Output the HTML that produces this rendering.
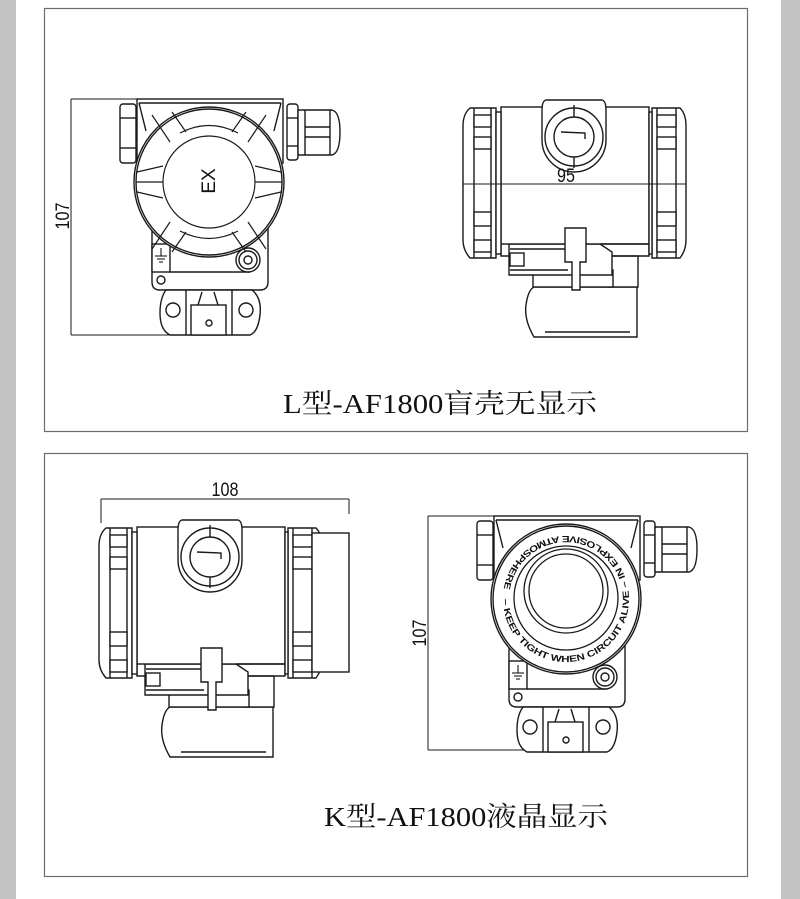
<!DOCTYPE html>
<html><head><meta charset="utf-8"><style>
html,body{margin:0;padding:0;background:#fff;}
svg{display:block}
</style></head><body>
<svg width="800" height="899" viewBox="0 0 800 899" xmlns="http://www.w3.org/2000/svg">
<defs>
<g id="front" fill="#fff" stroke="#1a1a1a" stroke-width="1.4">
  <path d="M152 228 L152 282 Q152 290 160 290 L260 290 Q268 290 268 282 L268 228 Z"/>
  <rect x="152" y="244" width="18" height="28"/>
  <line x1="170" y1="272" x2="250" y2="272"/>
  <circle cx="161" cy="280" r="4"/>
  <path d="M166 290 L252 290 Q262 298 260 315 Q258 332 250 335 L170 335 Q160 330 160 313 Q160 298 166 290 Z"/>
  <line x1="186" y1="290" x2="186" y2="335"/>
  <line x1="232" y1="290" x2="232" y2="335"/>
  <circle cx="173" cy="310" r="7"/>
  <circle cx="246" cy="310" r="7"/>
  <path d="M198 305 L202 292 M218 305 L214 292" fill="none"/>
  <rect x="191" y="305" width="35" height="30"/>
  <circle cx="209" cy="323" r="3"/>
  <rect x="137" y="99" width="146" height="64"/>
  <path d="M139 103 L281 103 M139 103 L146 131 M281 103 L274 131" fill="none"/>
  <rect x="120" y="104" width="16" height="59" rx="3"/>
  <line x1="120" y1="118" x2="136" y2="118"/><line x1="120" y1="148" x2="136" y2="148"/>
  <rect x="287" y="104" width="11" height="56" rx="3"/>
  <line x1="287" y1="118" x2="298" y2="118"/><line x1="287" y1="146" x2="298" y2="146"/>
  <path d="M298 110 L332 110 Q340 112 340 132 Q340 153 332 155 L298 155 Z"/>
  <line x1="305" y1="110" x2="305" y2="155"/>
  <line x1="305" y1="127" x2="330" y2="127"/><line x1="305" y1="137" x2="330" y2="137"/>
  <line x1="330" y1="110" x2="330" y2="155"/>
  <circle cx="209" cy="182" r="75"/>
  <circle cx="209" cy="182" r="73" fill="none"/>
  <circle cx="248" cy="260" r="12"/>
  <circle cx="248" cy="260" r="9" fill="none"/>
  <circle cx="248" cy="260" r="4" fill="none"/>
  <g stroke-width="1.1" fill="none">
    <line x1="161" y1="248" x2="161" y2="256"/>
    <line x1="155" y1="256" x2="167" y2="256"/>
    <line x1="157" y1="259" x2="165" y2="259"/>
    <line x1="159" y1="262" x2="163" y2="262"/>
  </g>
</g>
<g id="side" fill="#fff" stroke="#1a1a1a" stroke-width="1.4">
  <path d="M534 287 L637 287 L637 337 L534 337 Q524 320 526 305 Q528 290 534 287 Z"/>
  <line x1="545" y1="332" x2="630" y2="332"/>
  <rect x="608" y="256" width="30" height="31"/>
  <rect x="533" y="270" width="80" height="17"/>
  <path d="M509 244 L600 244 L612 252 L612 275 L509 275 Z"/>
  <line x1="510" y1="249" x2="568" y2="249"/>
  <line x1="510" y1="270" x2="568" y2="270"/>
  <rect x="510" y="253" width="14" height="13"/>
  <rect x="501" y="107" width="148" height="137"/>
  <path d="M501 244 L501 256 L509 256 M600 244 L649 244 L649 256 L612 256" fill="none"/>
  <path d="M565 228 L586 228 L586 262 L580 262 L580 290 L572 290 L572 262 L565 262 Z"/>
  <path d="M470 108 L496 108 L496 258 L470 258 Q463 250 463 240 L463 126 Q463 114 470 108 Z"/>
  <line x1="474" y1="108" x2="474" y2="258"/>
  <line x1="491" y1="108" x2="491" y2="258"/>
  <rect x="474" y="115" width="17" height="12"/><rect x="474" y="137" width="17" height="12"/>
  <rect x="474" y="212" width="17" height="14"/><rect x="474" y="240" width="17" height="12"/>
  <rect x="496" y="112" width="5" height="142"/>
  <path d="M652 108 L680 108 Q686 114 686 126 L686 240 Q686 250 680 258 L652 258 Z"/>
  <line x1="657" y1="108" x2="657" y2="258"/>
  <line x1="676" y1="108" x2="676" y2="258"/>
  <rect x="657" y="115" width="19" height="12"/><rect x="657" y="137" width="19" height="12"/>
  <rect x="657" y="212" width="19" height="14"/><rect x="657" y="240" width="19" height="12"/>
  <rect x="649" y="112" width="3" height="142"/>
  <path d="M546 100 L602 100 Q606 101 606 110 L606 140 A32 32 0 0 1 542 140 L542 110 Q542 101 546 100 Z"/>
  <circle cx="574" cy="137" r="29" fill="none"/>
  <circle cx="574" cy="137" r="20"/>
  <line x1="574" y1="105" x2="574" y2="117"/><line x1="574" y1="157" x2="574" y2="168"/>
  <path d="M561 132 L585 133 L585 139" fill="none"/>
</g>
</defs>

<rect x="0" y="0" width="16" height="899" fill="#c3c3c3"/>
<rect x="781" y="0" width="19" height="899" fill="#c3c3c3"/>

<rect x="44.5" y="8.5" width="703" height="423" fill="#fff" stroke="#6b6b6b" stroke-width="1.2"/>
<rect x="44.5" y="453.5" width="703" height="423" fill="#fff" stroke="#6b6b6b" stroke-width="1.2"/>

<g stroke="#1a1a1a" stroke-width="1" fill="none">
  <line x1="71" y1="99" x2="137" y2="99"/>
  <line x1="71" y1="99" x2="71" y2="335"/>
  <line x1="71" y1="335" x2="200" y2="335"/>
</g>
<text transform="translate(69,216) rotate(-90) scale(0.85,1)" font-family="Liberation Sans, sans-serif" font-size="19" text-anchor="middle" fill="#111">107</text>
<use href="#front"/>
<g fill="none" stroke="#1a1a1a" stroke-width="1.2">
  <circle cx="209" cy="182" r="46" fill="#fff"/>
  <path d="M170 142 L152 115 M186 132 L172 112 M232 132 L246 112 M248 142 L266 115
           M255 182 L282 182 M163 182 L136 182 M255 198 L281 192 M163 166 L137 172
           M170 222 L152 249 M186 232 L172 252 M232 232 L246 252 M248 222 L266 249
           M163 198 L137 192 M255 166 L281 172"/>
  <path d="M180 133 Q209 118 238 133 M180 231 Q209 246 238 231"/>
</g>
<text transform="translate(215,181) rotate(-90)" font-family="Liberation Sans, sans-serif" font-size="19" text-anchor="middle" fill="#111">EX</text>

<use href="#side"/>
<line x1="463" y1="184" x2="686" y2="184" stroke="#1a1a1a" stroke-width="1"/>
<text transform="translate(566,182) scale(0.85,1)" font-family="Liberation Sans, sans-serif" font-size="19" text-anchor="middle" fill="#111">95</text>

<text x="283" y="413" font-family="Liberation Serif, 'Noto Serif CJK SC', serif" font-size="27" textLength="314" lengthAdjust="spacingAndGlyphs" fill="#111">L型-AF1800盲壳无显示</text>

<use href="#side" transform="translate(-364,420)"/>
<g fill="#fff" stroke="#1a1a1a" stroke-width="1.4">
  <rect x="312" y="533" width="37" height="139"/>
</g>
<g stroke="#1a1a1a" stroke-width="1" fill="none">
  <line x1="101" y1="499" x2="349" y2="499"/>
  <line x1="101" y1="499" x2="101" y2="523"/>
  <line x1="349" y1="499" x2="349" y2="514"/>
</g>
<text transform="translate(225,496) scale(0.85,1)" font-family="Liberation Sans, sans-serif" font-size="19" text-anchor="middle" fill="#111">108</text>

<g stroke="#1a1a1a" stroke-width="1" fill="none">
  <line x1="428" y1="516" x2="494" y2="516"/>
  <line x1="428" y1="516" x2="428" y2="750"/>
  <line x1="428" y1="750" x2="560" y2="750"/>
</g>
<text transform="translate(426,633) rotate(-90) scale(0.85,1)" font-family="Liberation Sans, sans-serif" font-size="19" text-anchor="middle" fill="#111">107</text>
<use href="#front" transform="translate(357,417)"/>
<g fill="none" stroke="#1a1a1a" stroke-width="1.3">
  <circle cx="566" cy="598" r="52"/>
  <circle cx="566" cy="591" r="42" fill="#fff"/>
  <circle cx="566" cy="591" r="37"/>
</g>
<path id="ring" d="M503 599 A63 63 0 0 0 629 599 A63 63 0 0 0 503 599" fill="none"/>
<text font-family="Liberation Sans, sans-serif" font-size="9" font-weight="bold" fill="#111">
  <textPath href="#ring" textLength="385" lengthAdjust="spacingAndGlyphs">– KEEP TIGHT WHEN CIRCUIT ALIVE – IN EXPLOSIVE ATMOSPHERE </textPath>
</text>

<text x="324" y="826" font-family="Liberation Serif, 'Noto Serif CJK SC', serif" font-size="27" textLength="284" lengthAdjust="spacingAndGlyphs" fill="#111">K型-AF1800液晶显示</text>
</svg>
</body></html>
